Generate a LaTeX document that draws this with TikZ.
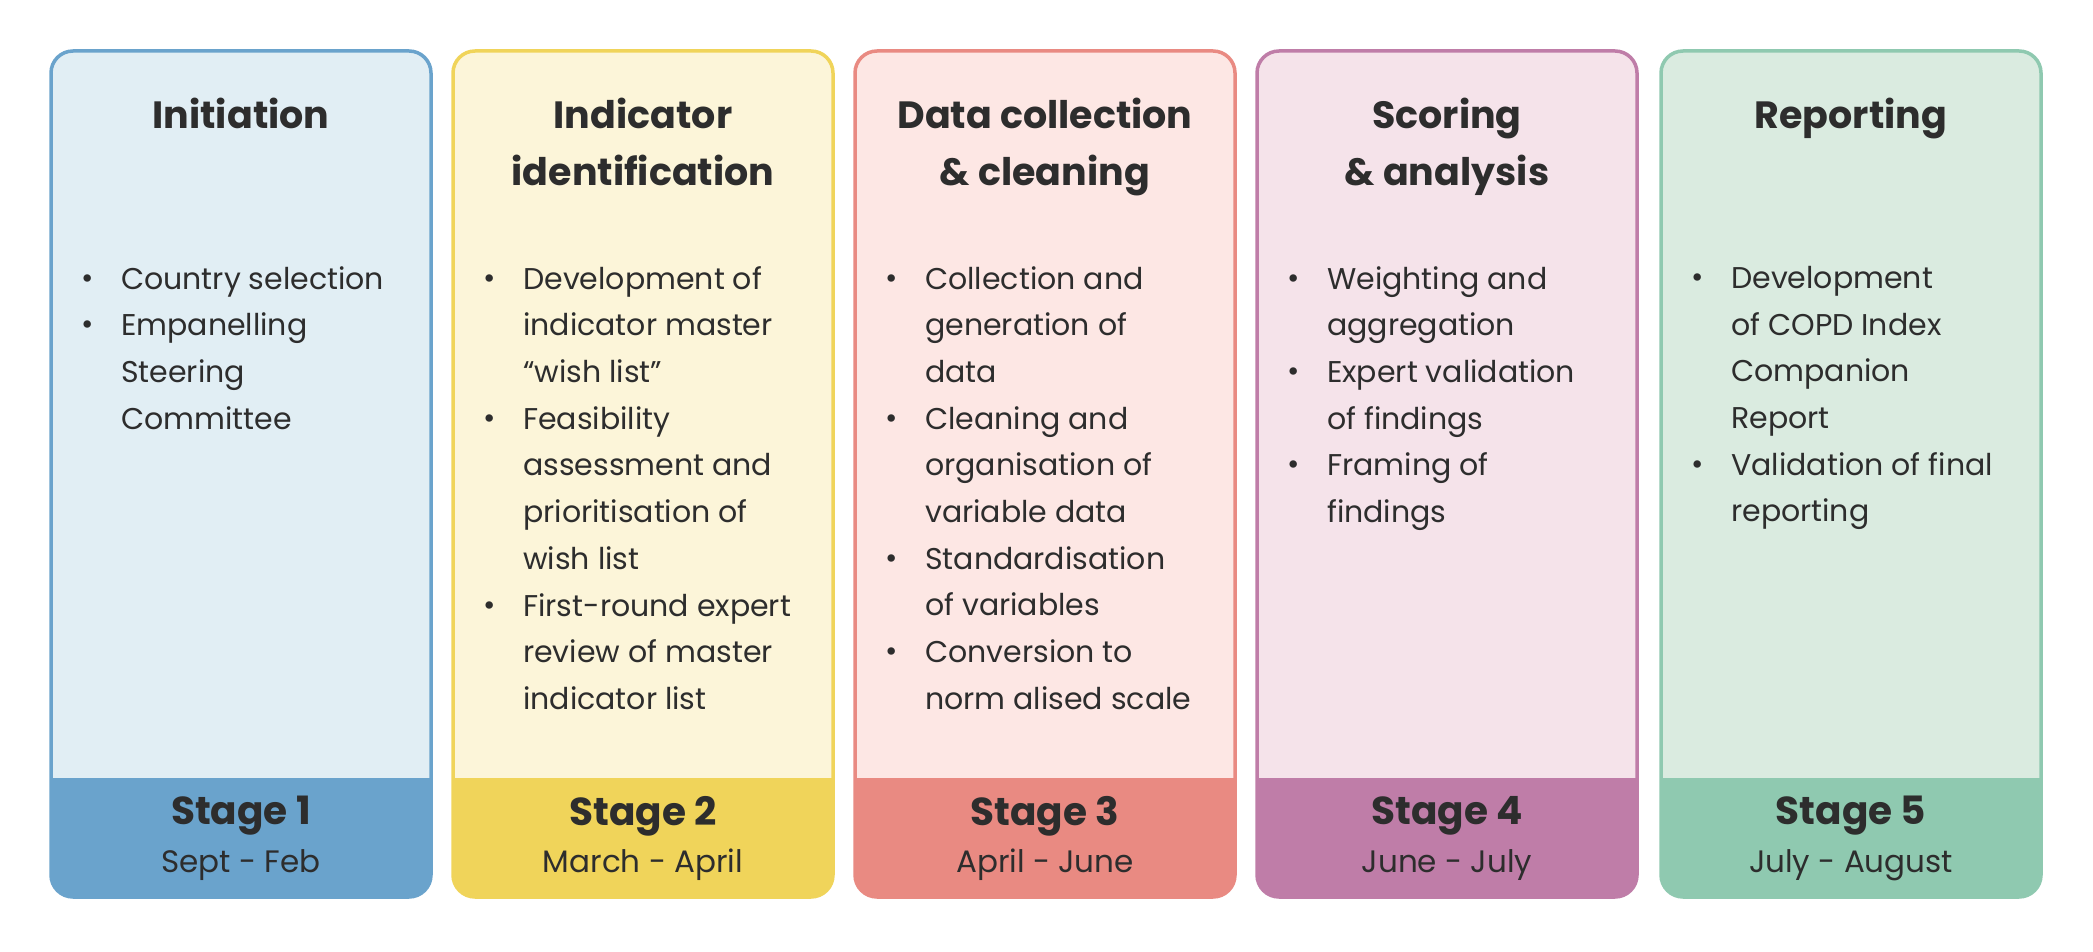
\documentclass[tikz,border=0pt]{standalone}
\usepackage{fontspec}
\setmainfont{Poppins}
\definecolor{txt}{HTML}{2D2D2D}
\definecolor{bA}{HTML}{6AA3CC}\definecolor{fA}{HTML}{E1EEF4}
\definecolor{bB}{HTML}{F0D45A}\definecolor{fB}{HTML}{FCF5D9}
\definecolor{bC}{HTML}{E98A82}\definecolor{fC}{HTML}{FDE7E4}
\definecolor{bD}{HTML}{BF7DA8}\definecolor{fD}{HTML}{F5E3EA}
\definecolor{bE}{HTML}{8FC9B0}\definecolor{fE}{HTML}{DAEBE0}
\newcommand{\bi}{\makebox[40pt][l]{\raisebox{1pt}{\textbullet}}}
\newcommand{\ci}{\hspace*{40pt}}
\tikzset{
 ttl/.style={text=txt,font=\fontsize{38}{57}\selectfont\bfseries,align=center},
 body/.style={text=txt,font=\fontsize{30}{46.7}\selectfont,align=left,anchor=north west,inner sep=0pt},
 stg/.style={text=txt,font=\fontsize{39}{40}\selectfont\bfseries},
 dat/.style={text=txt,font=\fontsize{31}{32}\selectfont},
}
\newcommand{\col}[8]{%
 \begin{scope}
 \clip[rounded corners=22pt] (#1,54) rectangle ++(380,846);
 \fill[#3] (#1,54) rectangle ++(380,846);
 \fill[#2] (#1,54) rectangle ++(380,119);
 \end{scope}
 \draw[#2,line width=3.5pt,rounded corners=22pt] (#1,54) rectangle ++(380,846);
 \node[ttl,anchor=north] (t#8) at (#1+190,856) {#4};
 \node[body] (b#8) at (#1+30,685) {#5};
 \node[stg] (s#8) at (#1+190,135) {#6};
 \node[dat] (d#8) at (#1+190,86) {#7};
}
\begin{document}
\begin{tikzpicture}[x=1pt,y=1pt]
\useasboundingbox (0,0) rectangle (2093,951);
\fill[white] (0,0) rectangle (2093,951);
\col{51}{bA}{fA}{Initiation}{\bi Country selection\\\bi Empanelling\\\ci Steering\\\ci Committee}{Stage 1}{Sept - Feb}{a}
\col{453}{bB}{fB}{Indicator\\identification}{\bi Development of\\\ci indicator master\\\ci “wish list”\\\bi Feasibility\\\ci assessment and\\\ci prioritisation of\\\ci wish list\\\bi First-round expert\\\ci review of master\\\ci indicator list}{Stage 2}{March - April}{b}
\col{855}{bC}{fC}{Data collection\\\& cleaning}{\bi Collection and\\\ci generation of\\\ci data\\\bi Cleaning and\\\ci organisation of\\\ci variable data\\\bi Standardisation\\\ci of variables\\\bi Conversion to\\\ci norm alised scale}{Stage 3}{April - June}{c}
\col{1257}{bD}{fD}{Scoring\\\& analysis}{\bi Weighting and\\\ci aggregation\\\bi Expert validation\\\ci of findings\\\bi Framing of\\\ci findings}{Stage 4}{June - July}{d}
\col{1661}{bE}{fE}{Reporting}{\bi Development\\\ci of COPD Index\\\ci Companion\\\ci Report\\\bi Validation of final\\\ci reporting}{Stage 5}{July - August}{e}
\end{tikzpicture}
\end{document}
